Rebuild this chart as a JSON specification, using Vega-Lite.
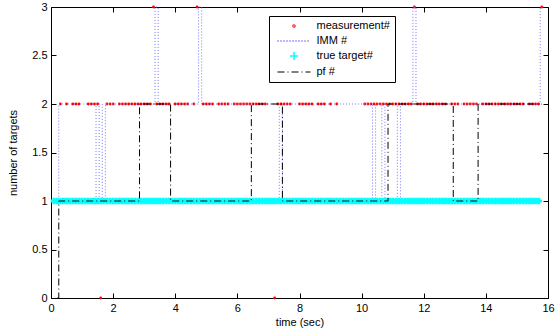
{
 "$schema": "https://vega.github.io/schema/vega-lite/v6.json",
 "width": 497, "height": 291,
 "autosize": {"type": "none"},
 "padding": {"left": 51, "top": 7, "right": 12, "bottom": 31},
 "background": "white",
 "config": {
  "view": {"stroke": null},
  "font": "Liberation Sans",
  "axis": {"domainColor": "#000", "domainWidth": 1, "tickColor": "#000", "tickWidth": 1, "tickSize": -5, "labelColor": "#000", "labelFontSize": 11, "labelFont": "Liberation Sans", "titleFont": "Liberation Sans", "titleFontSize": 11, "titleFontWeight": "normal", "titleColor": "#000", "grid": false, "labelPadding": 9, "labelFlush": false, "labelOverlap": false}
 },
 "data": {"values": [
  {"t":0.1,"m":1,"i":1,"g":1,"p":null},
  {"t":0.2,"m":1,"i":1,"g":1,"p":0},
  {"t":0.3,"m":2,"i":2,"g":1,"p":1},
  {"t":0.4,"m":1,"i":2,"g":1,"p":1},
  {"t":0.5,"m":2,"i":2,"g":1,"p":1},
  {"t":0.6,"m":1,"i":2,"g":1,"p":1},
  {"t":0.7,"m":2,"i":2,"g":1,"p":1},
  {"t":0.8,"m":2,"i":2,"g":1,"p":1},
  {"t":0.9,"m":2,"i":2,"g":1,"p":1},
  {"t":1.0,"m":1,"i":2,"g":1,"p":1},
  {"t":1.1,"m":1,"i":2,"g":1,"p":1},
  {"t":1.2,"m":2,"i":2,"g":1,"p":1},
  {"t":1.3,"m":2,"i":2,"g":1,"p":1},
  {"t":1.4,"m":2,"i":2,"g":1,"p":1},
  {"t":1.5,"m":2,"i":1,"g":1,"p":1},
  {"t":1.6,"m":0,"i":2,"g":1,"p":1},
  {"t":1.7,"m":1,"i":1,"g":1,"p":1},
  {"t":1.8,"m":2,"i":2,"g":1,"p":1},
  {"t":1.9,"m":2,"i":2,"g":1,"p":1},
  {"t":2.0,"m":2,"i":2,"g":1,"p":1},
  {"t":2.1,"m":1,"i":2,"g":1,"p":1},
  {"t":2.2,"m":2,"i":2,"g":1,"p":1},
  {"t":2.3,"m":2,"i":2,"g":1,"p":1},
  {"t":2.4,"m":2,"i":2,"g":1,"p":1},
  {"t":2.5,"m":2,"i":2,"g":1,"p":1},
  {"t":2.6,"m":2,"i":2,"g":1,"p":1},
  {"t":2.7,"m":2,"i":2,"g":1,"p":1},
  {"t":2.8,"m":2,"i":2,"g":1,"p":1},
  {"t":2.9,"m":2,"i":2,"g":1,"p":2},
  {"t":3.0,"m":2,"i":2,"g":1,"p":2},
  {"t":3.1,"m":2,"i":2,"g":1,"p":2},
  {"t":3.2,"m":2,"i":2,"g":1,"p":2},
  {"t":3.3,"m":3,"i":2,"g":1,"p":2},
  {"t":3.4,"m":2,"i":3,"g":1,"p":2},
  {"t":3.5,"m":2,"i":2,"g":1,"p":2},
  {"t":3.6,"m":2,"i":2,"g":1,"p":2},
  {"t":3.7,"m":2,"i":2,"g":1,"p":2},
  {"t":3.8,"m":2,"i":2,"g":1,"p":2},
  {"t":3.9,"m":1,"i":2,"g":1,"p":1},
  {"t":4.0,"m":2,"i":2,"g":1,"p":1},
  {"t":4.1,"m":2,"i":2,"g":1,"p":1},
  {"t":4.2,"m":2,"i":2,"g":1,"p":1},
  {"t":4.3,"m":2,"i":2,"g":1,"p":1},
  {"t":4.4,"m":2,"i":2,"g":1,"p":1},
  {"t":4.5,"m":1,"i":2,"g":1,"p":1},
  {"t":4.6,"m":2,"i":2,"g":1,"p":1},
  {"t":4.7,"m":3,"i":2,"g":1,"p":1},
  {"t":4.8,"m":1,"i":3,"g":1,"p":1},
  {"t":4.9,"m":2,"i":2,"g":1,"p":1},
  {"t":5.0,"m":2,"i":2,"g":1,"p":1},
  {"t":5.1,"m":2,"i":2,"g":1,"p":1},
  {"t":5.2,"m":2,"i":2,"g":1,"p":1},
  {"t":5.3,"m":1,"i":2,"g":1,"p":1},
  {"t":5.4,"m":2,"i":2,"g":1,"p":1},
  {"t":5.5,"m":2,"i":2,"g":1,"p":1},
  {"t":5.6,"m":2,"i":2,"g":1,"p":1},
  {"t":5.7,"m":2,"i":2,"g":1,"p":1},
  {"t":5.8,"m":1,"i":2,"g":1,"p":1},
  {"t":5.9,"m":2,"i":2,"g":1,"p":1},
  {"t":6.0,"m":2,"i":2,"g":1,"p":1},
  {"t":6.1,"m":2,"i":2,"g":1,"p":1},
  {"t":6.2,"m":2,"i":2,"g":1,"p":1},
  {"t":6.3,"m":2,"i":2,"g":1,"p":1},
  {"t":6.4,"m":2,"i":2,"g":1,"p":1},
  {"t":6.5,"m":2,"i":2,"g":1,"p":2},
  {"t":6.6,"m":2,"i":2,"g":1,"p":2},
  {"t":6.7,"m":2,"i":2,"g":1,"p":2},
  {"t":6.8,"m":2,"i":2,"g":1,"p":2},
  {"t":6.9,"m":2,"i":2,"g":1,"p":2},
  {"t":7.0,"m":1,"i":2,"g":1,"p":2},
  {"t":7.1,"m":1,"i":2,"g":1,"p":2},
  {"t":7.2,"m":0,"i":2,"g":1,"p":2},
  {"t":7.3,"m":2,"i":2,"g":1,"p":2},
  {"t":7.4,"m":2,"i":1,"g":1,"p":2},
  {"t":7.5,"m":2,"i":2,"g":1,"p":1},
  {"t":7.6,"m":2,"i":2,"g":1,"p":1},
  {"t":7.7,"m":2,"i":2,"g":1,"p":1},
  {"t":7.8,"m":1,"i":2,"g":1,"p":1},
  {"t":7.9,"m":1,"i":2,"g":1,"p":1},
  {"t":8.0,"m":2,"i":2,"g":1,"p":1},
  {"t":8.1,"m":2,"i":2,"g":1,"p":1},
  {"t":8.2,"m":2,"i":2,"g":1,"p":1},
  {"t":8.3,"m":2,"i":2,"g":1,"p":1},
  {"t":8.4,"m":2,"i":2,"g":1,"p":1},
  {"t":8.5,"m":1,"i":2,"g":1,"p":1},
  {"t":8.6,"m":2,"i":2,"g":1,"p":1},
  {"t":8.7,"m":2,"i":2,"g":1,"p":1},
  {"t":8.8,"m":2,"i":2,"g":1,"p":1},
  {"t":8.9,"m":1,"i":2,"g":1,"p":1},
  {"t":9.0,"m":2,"i":2,"g":1,"p":1},
  {"t":9.1,"m":1,"i":2,"g":1,"p":1},
  {"t":9.2,"m":2,"i":2,"g":1,"p":1},
  {"t":9.3,"m":1,"i":2,"g":1,"p":1},
  {"t":9.4,"m":1,"i":2,"g":1,"p":1},
  {"t":9.5,"m":1,"i":2,"g":1,"p":1},
  {"t":9.6,"m":1,"i":2,"g":1,"p":1},
  {"t":9.7,"m":1,"i":2,"g":1,"p":1},
  {"t":9.8,"m":1,"i":2,"g":1,"p":1},
  {"t":9.9,"m":1,"i":2,"g":1,"p":1},
  {"t":10.0,"m":1,"i":2,"g":1,"p":1},
  {"t":10.1,"m":2,"i":2,"g":1,"p":1},
  {"t":10.2,"m":2,"i":2,"g":1,"p":1},
  {"t":10.3,"m":2,"i":2,"g":1,"p":1},
  {"t":10.4,"m":2,"i":1,"g":1,"p":1},
  {"t":10.5,"m":2,"i":2,"g":1,"p":1},
  {"t":10.6,"m":2,"i":2,"g":1,"p":1},
  {"t":10.7,"m":2,"i":1,"g":1,"p":1},
  {"t":10.8,"m":2,"i":2,"g":1,"p":1},
  {"t":10.9,"m":2,"i":2,"g":1,"p":2},
  {"t":11.0,"m":2,"i":2,"g":1,"p":2},
  {"t":11.1,"m":2,"i":2,"g":1,"p":2},
  {"t":11.2,"m":2,"i":1,"g":1,"p":2},
  {"t":11.3,"m":2,"i":2,"g":1,"p":2},
  {"t":11.4,"m":2,"i":2,"g":1,"p":2},
  {"t":11.5,"m":2,"i":2,"g":1,"p":2},
  {"t":11.6,"m":2,"i":2,"g":1,"p":2},
  {"t":11.7,"m":3,"i":3,"g":1,"p":2},
  {"t":11.8,"m":2,"i":2,"g":1,"p":2},
  {"t":11.9,"m":2,"i":2,"g":1,"p":2},
  {"t":12.0,"m":2,"i":2,"g":1,"p":2},
  {"t":12.1,"m":2,"i":2,"g":1,"p":2},
  {"t":12.2,"m":2,"i":2,"g":1,"p":2},
  {"t":12.3,"m":2,"i":2,"g":1,"p":2},
  {"t":12.4,"m":2,"i":2,"g":1,"p":2},
  {"t":12.5,"m":2,"i":2,"g":1,"p":2},
  {"t":12.6,"m":2,"i":2,"g":1,"p":2},
  {"t":12.7,"m":2,"i":2,"g":1,"p":2},
  {"t":12.8,"m":1,"i":2,"g":1,"p":2},
  {"t":12.9,"m":2,"i":2,"g":1,"p":2},
  {"t":13.0,"m":2,"i":2,"g":1,"p":1},
  {"t":13.1,"m":2,"i":2,"g":1,"p":1},
  {"t":13.2,"m":1,"i":2,"g":1,"p":1},
  {"t":13.3,"m":2,"i":2,"g":1,"p":1},
  {"t":13.4,"m":2,"i":2,"g":1,"p":1},
  {"t":13.5,"m":2,"i":2,"g":1,"p":1},
  {"t":13.6,"m":2,"i":2,"g":1,"p":1},
  {"t":13.7,"m":2,"i":2,"g":1,"p":1},
  {"t":13.8,"m":1,"i":2,"g":1,"p":2},
  {"t":13.9,"m":2,"i":2,"g":1,"p":2},
  {"t":14.0,"m":2,"i":2,"g":1,"p":2},
  {"t":14.1,"m":2,"i":2,"g":1,"p":2},
  {"t":14.2,"m":2,"i":2,"g":1,"p":2},
  {"t":14.3,"m":2,"i":2,"g":1,"p":2},
  {"t":14.4,"m":2,"i":2,"g":1,"p":2},
  {"t":14.5,"m":2,"i":2,"g":1,"p":2},
  {"t":14.6,"m":2,"i":2,"g":1,"p":2},
  {"t":14.7,"m":2,"i":2,"g":1,"p":2},
  {"t":14.8,"m":2,"i":2,"g":1,"p":2},
  {"t":14.9,"m":2,"i":2,"g":1,"p":2},
  {"t":15.0,"m":2,"i":2,"g":1,"p":2},
  {"t":15.1,"m":2,"i":2,"g":1,"p":2},
  {"t":15.2,"m":2,"i":2,"g":1,"p":2},
  {"t":15.3,"m":1,"i":2,"g":1,"p":2},
  {"t":15.4,"m":2,"i":2,"g":1,"p":2},
  {"t":15.5,"m":2,"i":2,"g":1,"p":2},
  {"t":15.6,"m":2,"i":2,"g":1,"p":2},
  {"t":15.7,"m":2,"i":2,"g":1,"p":2},
  {"t":15.8,"m":3,"i":3,"g":null,"p":2}
 ]},
 "transform": [{"fold": ["m", "i", "g", "p"], "as": ["s", "n"]}],
 "layer": [
  {
   "transform": [{"filter": "datum.s == 'm'"}],
   "mark": {"type": "point", "filled": true, "size": 8, "opacity": 1, "color": "#ff0000"},
   "encoding": {
    "x": {"field": "t", "type": "quantitative", "scale": {"domain": [0, 16], "nice": false, "zero": false},
          "axis": {"orient": "bottom", "values": [0, 2, 4, 6, 8, 10, 12, 14, 16], "title": "time (sec)", "titlePadding": 3}},
    "y": {"field": "n", "type": "quantitative", "scale": {"domain": [0, 3], "nice": false},
          "axis": {"orient": "left", "values": [0, 0.5, 1, 1.5, 2, 2.5, 3], "format": "~g", "title": "number of targets", "titlePadding": 13}}
   }
  },
  {
   "transform": [{"filter": "datum.s == 'i'"}],
   "mark": {"type": "line", "color": "#7777ff", "strokeWidth": 1, "strokeDash": [1, 2], "interpolate": "step"},
   "encoding": {
    "x": {"field": "t", "type": "quantitative", "axis": {"orient": "top", "values": [0, 2, 4, 6, 8, 10, 12, 14, 16], "labels": false, "title": null}},
    "y": {"field": "n", "type": "quantitative", "axis": {"orient": "right", "values": [0, 0.5, 1, 1.5, 2, 2.5, 3], "labels": false, "title": null}}
   }
  },
  {
   "transform": [{"filter": "datum.s == 'g'"}],
   "mark": {"type": "point", "shape": "M-1,0H1M0,-1V1", "filled": false, "size": 44, "stroke": "#00ffff", "strokeWidth": 3, "opacity": 1},
   "encoding": {
    "x": {"field": "t", "type": "quantitative", "axis": null},
    "y": {"field": "n", "type": "quantitative", "axis": null}
   }
  },
  {
   "transform": [{"filter": "datum.s == 'p'"}],
   "mark": {"type": "line", "color": "#000000", "strokeWidth": 1, "strokeDash": [7, 3, 1, 3], "interpolate": "step"},
   "encoding": {
    "x": {"field": "t", "type": "quantitative", "axis": null},
    "y": {"field": "n", "type": "quantitative", "axis": null}
   }
  },
  {
   "transform": [{"filter": "false"}],
   "mark": {"type": "point", "filled": false, "opacity": 1},
   "encoding": {
    "x": {"field": "t", "type": "quantitative", "axis": null},
    "y": {"field": "n", "type": "quantitative", "axis": null},
    "color": {"field": "s", "type": "nominal",
     "scale": {"domain": ["m", "i", "g", "p"], "range": ["#ff0000", "#7777ff", "#00ffff", "#000000"]},
     "legend": {
      "orient": "none", "legendX": 218, "legendY": 9, "title": null,
      "padding": 4.5, "strokeColor": "#000", "fillColor": "#fff",
      "symbolSize": 17, "labelFontSize": 11, "labelFont": "Liberation Sans", "labelColor": "#000",
      "rowPadding": 2, "symbolOffset": 15, "labelOffset": 17,
      "labelExpr": "datum.label == 'm' ? 'measurement#' : datum.label == 'i' ? 'IMM #' : datum.label == 'g' ? 'true target#' : 'pf #'"
     }},
    "shape": {"field": "s", "type": "nominal",
     "scale": {"domain": ["m", "i", "g", "p"], "range": ["M-0.25,0A0.25,0.25,0,1,0,0.25,0A0.25,0.25,0,1,0,-0.25,0", "M-8,0H8", "M-2,0H2M0,-2V2", "M-8,0H8"]},
     "legend": {"title": null}},
    "strokeDash": {"field": "s", "type": "nominal",
     "scale": {"domain": ["m", "i", "g", "p"], "range": [[1, 0], [1, 2], [1, 0], [7, 3, 1, 3]]},
     "legend": {"title": null}},
    "strokeWidth": {"field": "s", "type": "nominal",
     "scale": {"domain": ["m", "i", "g", "p"], "range": [2.5, 1, 1, 1]},
     "legend": {"title": null}}
   }
  }
 ],
 "resolve": {"axis": {"x": "independent", "y": "independent"}}
}
